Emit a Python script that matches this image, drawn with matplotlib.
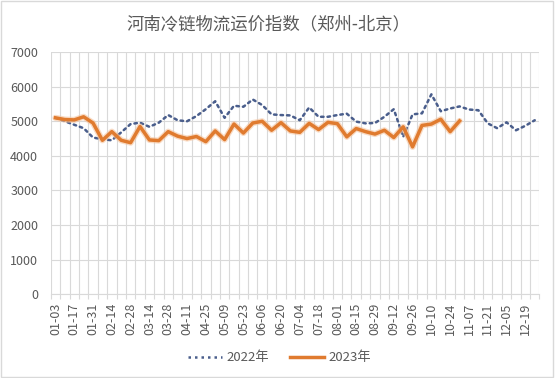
import matplotlib
matplotlib.use("Agg")
import matplotlib.pyplot as plt
import numpy as np
from matplotlib.lines import Line2D
from matplotlib.patches import Rectangle

plt.rcParams['font.family'] = ['Noto Sans CJK SC', 'DejaVu Sans']
plt.rcParams['font.weight'] = 'light'

# weekly categories (2022 calendar)
weeks = ['01-03', '01-10', '01-17', '01-24', '01-31', '02-07', '02-14', '02-21',
         '02-28', '03-07', '03-14', '03-21', '03-28', '04-04', '04-11', '04-18',
         '04-25', '05-02', '05-09', '05-16', '05-23', '05-30', '06-06', '06-13',
         '06-20', '06-27', '07-04', '07-11', '07-18', '07-25', '08-01', '08-08',
         '08-15', '08-22', '08-29', '09-05', '09-12', '09-19', '09-26', '10-03',
         '10-10', '10-17', '10-24', '10-31', '11-07', '11-14', '11-21', '11-28',
         '12-05', '12-12', '12-19', '12-26']

idx_2022 = [5100, 5000, 4900, 4800, 4530, 4480, 4450, 4680, 4920, 4960,
            4840, 4960, 5180, 5030, 5000, 5150, 5350, 5580, 5100, 5450,
            5420, 5630, 5470, 5200, 5180, 5170, 5030, 5400, 5130, 5130,
            5180, 5220, 4990, 4940, 4950, 5130, 5350, 4550, 5200, 5230,
            5780, 5290, 5370, 5430, 5340, 5320, 4940, 4800, 4970, 4740,
            4870, 5030]

idx_2023 = [5100, 5050, 5040, 5130, 4950, 4450, 4700, 4450, 4380, 4850,
            4460, 4440, 4700, 4570, 4500, 4560, 4410, 4720, 4470, 4920,
            4660, 4950, 5000, 4740, 4960, 4720, 4680, 4940, 4760, 4970,
            4930, 4550, 4790, 4700, 4630, 4740, 4530, 4840, 4260, 4880,
            4920, 5060, 4700, 5010]

txt = '#595959'
grid = '#D9D9D9'
blue = '#4A5E8C'
orange = '#E07B2F'
dots = (0, (1, 1.6))

fig = plt.figure(figsize=(5.55, 3.78), dpi=100)
ax = fig.add_axes([0.0914, 0.222, 0.8806, 0.640])

ax.plot(range(len(idx_2022)), idx_2022, color=blue, lw=1.8,
        linestyle=dots, dash_capstyle='round', zorder=3)
ax.plot(range(len(idx_2023)), idx_2023, color='#F5C49E', lw=4.4, alpha=0.6,
        solid_capstyle='round', zorder=3)
ax.plot(range(len(idx_2023)), idx_2023, color=orange, lw=2.5,
        solid_joinstyle='round', zorder=4)

ax.set_xlim(-0.5, len(weeks) - 0.5)
ax.set_ylim(0, 7000)
ax.set_yticks(range(0, 7001, 1000))
ax.set_xticks(range(0, len(weeks), 2))
ax.set_xticklabels(weeks[::2], rotation=90)
ax.set_xticks(np.arange(-0.5, len(weeks), 1), minor=True)

ax.grid(axis='y', which='major', color=grid, lw=0.8)
ax.grid(axis='x', which='minor', color=grid, lw=0.8)
ax.set_axisbelow(True)

for s in ['top', 'right', 'left']:
    ax.spines[s].set_visible(False)
ax.spines['bottom'].set_color(grid)
ax.spines['bottom'].set_linewidth(0.8)

ax.tick_params(axis='y', length=0, pad=9, labelsize=9, labelcolor=txt)
ax.tick_params(axis='x', which='major', length=0, pad=6, labelsize=9, labelcolor=txt)
ax.tick_params(axis='x', which='minor', length=3.5, color=grid, width=0.8)

fig.text(0.483, 0.935, '河南冷链物流运价指数（郑州-北京）', ha='center', va='center',
         fontsize=12.5, color=txt)

handles = [Line2D([], [], color=blue, lw=1.8, linestyle=dots),
           Line2D([], [], color=orange, lw=2.5)]
fig.legend(handles, ['2022年', '2023年'], loc='center', bbox_to_anchor=(0.503, 0.053),
           ncol=2, frameon=False, fontsize=9.5, labelcolor=txt, handlelength=2.6,
           columnspacing=1.6, handletextpad=0.3)

fig.patches.append(Rectangle((0.002, 0.003), 0.995, 0.994, transform=fig.transFigure,
                             fill=False, edgecolor='#D9D9D9', lw=1))

fig.savefig('out.png', dpi=100)
